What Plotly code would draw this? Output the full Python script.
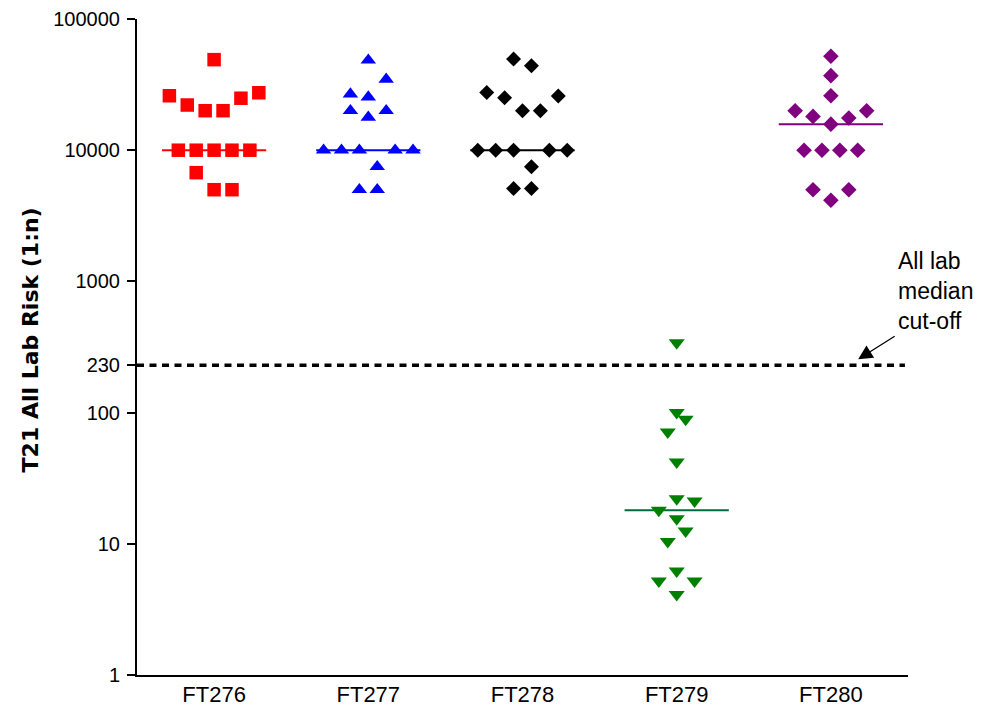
import numpy as np
import plotly.graph_objects as go

# Column groups (x axis) and T21 risk values (1:n) for each sample set
categories = ["FT276", "FT277", "FT278", "FT279", "FT280"]

ft276 = [5000, 5000, 6740,
         10000, 10000, 10000, 10000, 10000,
         20000, 20000, 24900, 22100, 27400, 26000,
         49000]
ft277 = [5000, 5000,
         7480, 10000, 10000, 10000, 10000, 10000,
         17800, 20000, 20000,
         25400, 34700, 26800,
         48500]
ft278 = [5100, 5100,
         7480, 10000, 10000, 10000, 10000, 10000,
         20000, 20000, 25100, 25900, 27500,
         44000, 49500]
ft279 = [4.1, 5.2, 5.2,
         6.2,
         12.5, 10.4,
         15.5, 21.2, 18,
         22,
         42,
         89, 71,
         100,
         340]
ft280 = [4150, 5000, 5000,
         10000, 10000, 10000, 10000,
         15800, 17600, 18100, 20000, 20000,
         26000,
         37000,
         52000]

series_values = [ft276, ft277, ft278, ft279, ft280]
cutoff = 230

tick_values = [1, 10, 100, 230, 1000, 10000, 100000]
tick_text = ["1", "10", "100", "230", "1000", "10000", "100000"]

symbols = ["square", "triangle-up", "diamond", "triangle-down", "diamond"]
marker_sizes = [13.5, 13.5, 11.5, 14, 12]
colors = ["#FF0000", "#0000FF", "#000000", "#008000", "#800080"]
median_colors = ["#FF0000", "#0000FF", "#000000", "#006B3C", "#800080"]

FONT = "Arial, Liberation Sans, sans-serif"


def column_offsets(values, row_span=0.143, step=0.116):
    """Column-scatter layout: points whose log values fall within one
    marker height share a row and are spread symmetrically about the
    column centre, in the order they appear in the list."""
    logs = np.log10(np.asarray(values, dtype=float))
    order = np.argsort(logs, kind="stable")
    rows, current, start = [], [], None
    for i in order:
        if current and logs[i] - start < row_span:
            current.append(i)
        else:
            if current:
                rows.append(current)
            current, start = [i], logs[i]
    rows.append(current)

    offsets = np.zeros(len(values))
    for row in rows:
        row = sorted(row)
        n = len(row)
        if n % 2:
            slots = [0] + [s * k for k in range(1, n // 2 + 1) for s in (1, -1)]
        else:
            slots = [s * (k - 0.5) for k in range(1, n // 2 + 1) for s in (1, -1)]
        for idx, slot in zip(row, slots):
            offsets[idx] = slot * step
    return offsets


fig = go.Figure()

# cut-off reference line
fig.add_trace(go.Scatter(
    x=[-0.5, 4.48], y=[cutoff, cutoff], mode="lines",
    line=dict(color="black", width=3.5, dash="7px,5.5px"),
    hoverinfo="skip", showlegend=False,
))

for i, (vals, sym, size, col, mcol) in enumerate(
        zip(series_values, symbols, marker_sizes, colors, median_colors)):
    offs = column_offsets(vals)
    med = float(np.median(vals))
    fig.add_trace(go.Scatter(
        x=[i - 0.338, i + 0.338], y=[med, med], mode="lines",
        line=dict(color=mcol, width=2), hoverinfo="skip", showlegend=False,
    ))
    fig.add_trace(go.Scatter(
        x=i + offs, y=vals, mode="markers", name=categories[i],
        marker=dict(symbol=sym, size=size, color=col, line=dict(width=0)),
        showlegend=False,
    ))

fig.update_layout(
    width=981, height=717,
    margin=dict(l=137, r=73, t=19, b=42),
    paper_bgcolor="white", plot_bgcolor="white",
    font=dict(family=FONT, color="black"),
    showlegend=False,
)

fig.update_xaxes(
    range=[-0.5, 4.5], tickmode="array", tickvals=list(range(len(categories))),
    ticktext=categories, showline=True, linecolor="black", linewidth=2,
    ticks="", showgrid=False, zeroline=False, automargin=False,
    tickfont=dict(size=22, family=FONT, color="black"), ticklabelstandoff=-1,
)
fig.update_yaxes(
    type="log", range=[0, 5], tickmode="array", tickvals=tick_values,
    ticktext=tick_text, showline=True, linecolor="black", linewidth=2,
    ticks="outside", ticklen=8, tickwidth=2, tickcolor="black",
    showgrid=False, zeroline=False, automargin=False,
    tickfont=dict(size=20, family=FONT, color="black"), ticklabelstandoff=3,
)

# y-axis title
fig.add_annotation(
    text="<b>T21 All Lab Risk (1:n)</b>", textangle=-90,
    xref="paper", yref="paper", x=-0.138, y=0.511,
    xanchor="center", yanchor="middle", showarrow=False,
    font=dict(size=22, family="DejaVu Sans, Arial, sans-serif", color="black"),
)

# cut-off label and pointer
fig.add_annotation(
    text="All lab<br>median<br>cut-off", xref="paper", yref="paper",
    x=0.984, y=0.586, xanchor="left", yanchor="middle", align="left",
    showarrow=False, font=dict(size=23, family=FONT, color="black"),
)
fig.add_annotation(
    text="", x=4.177, y=np.log10(cutoff) + 0.045, xref="x", yref="y",
    ax=38, ay=-24, showarrow=True, arrowhead=2, arrowsize=2.2,
    arrowwidth=1.3, arrowcolor="black",
)

fig.write_html("out.html")
